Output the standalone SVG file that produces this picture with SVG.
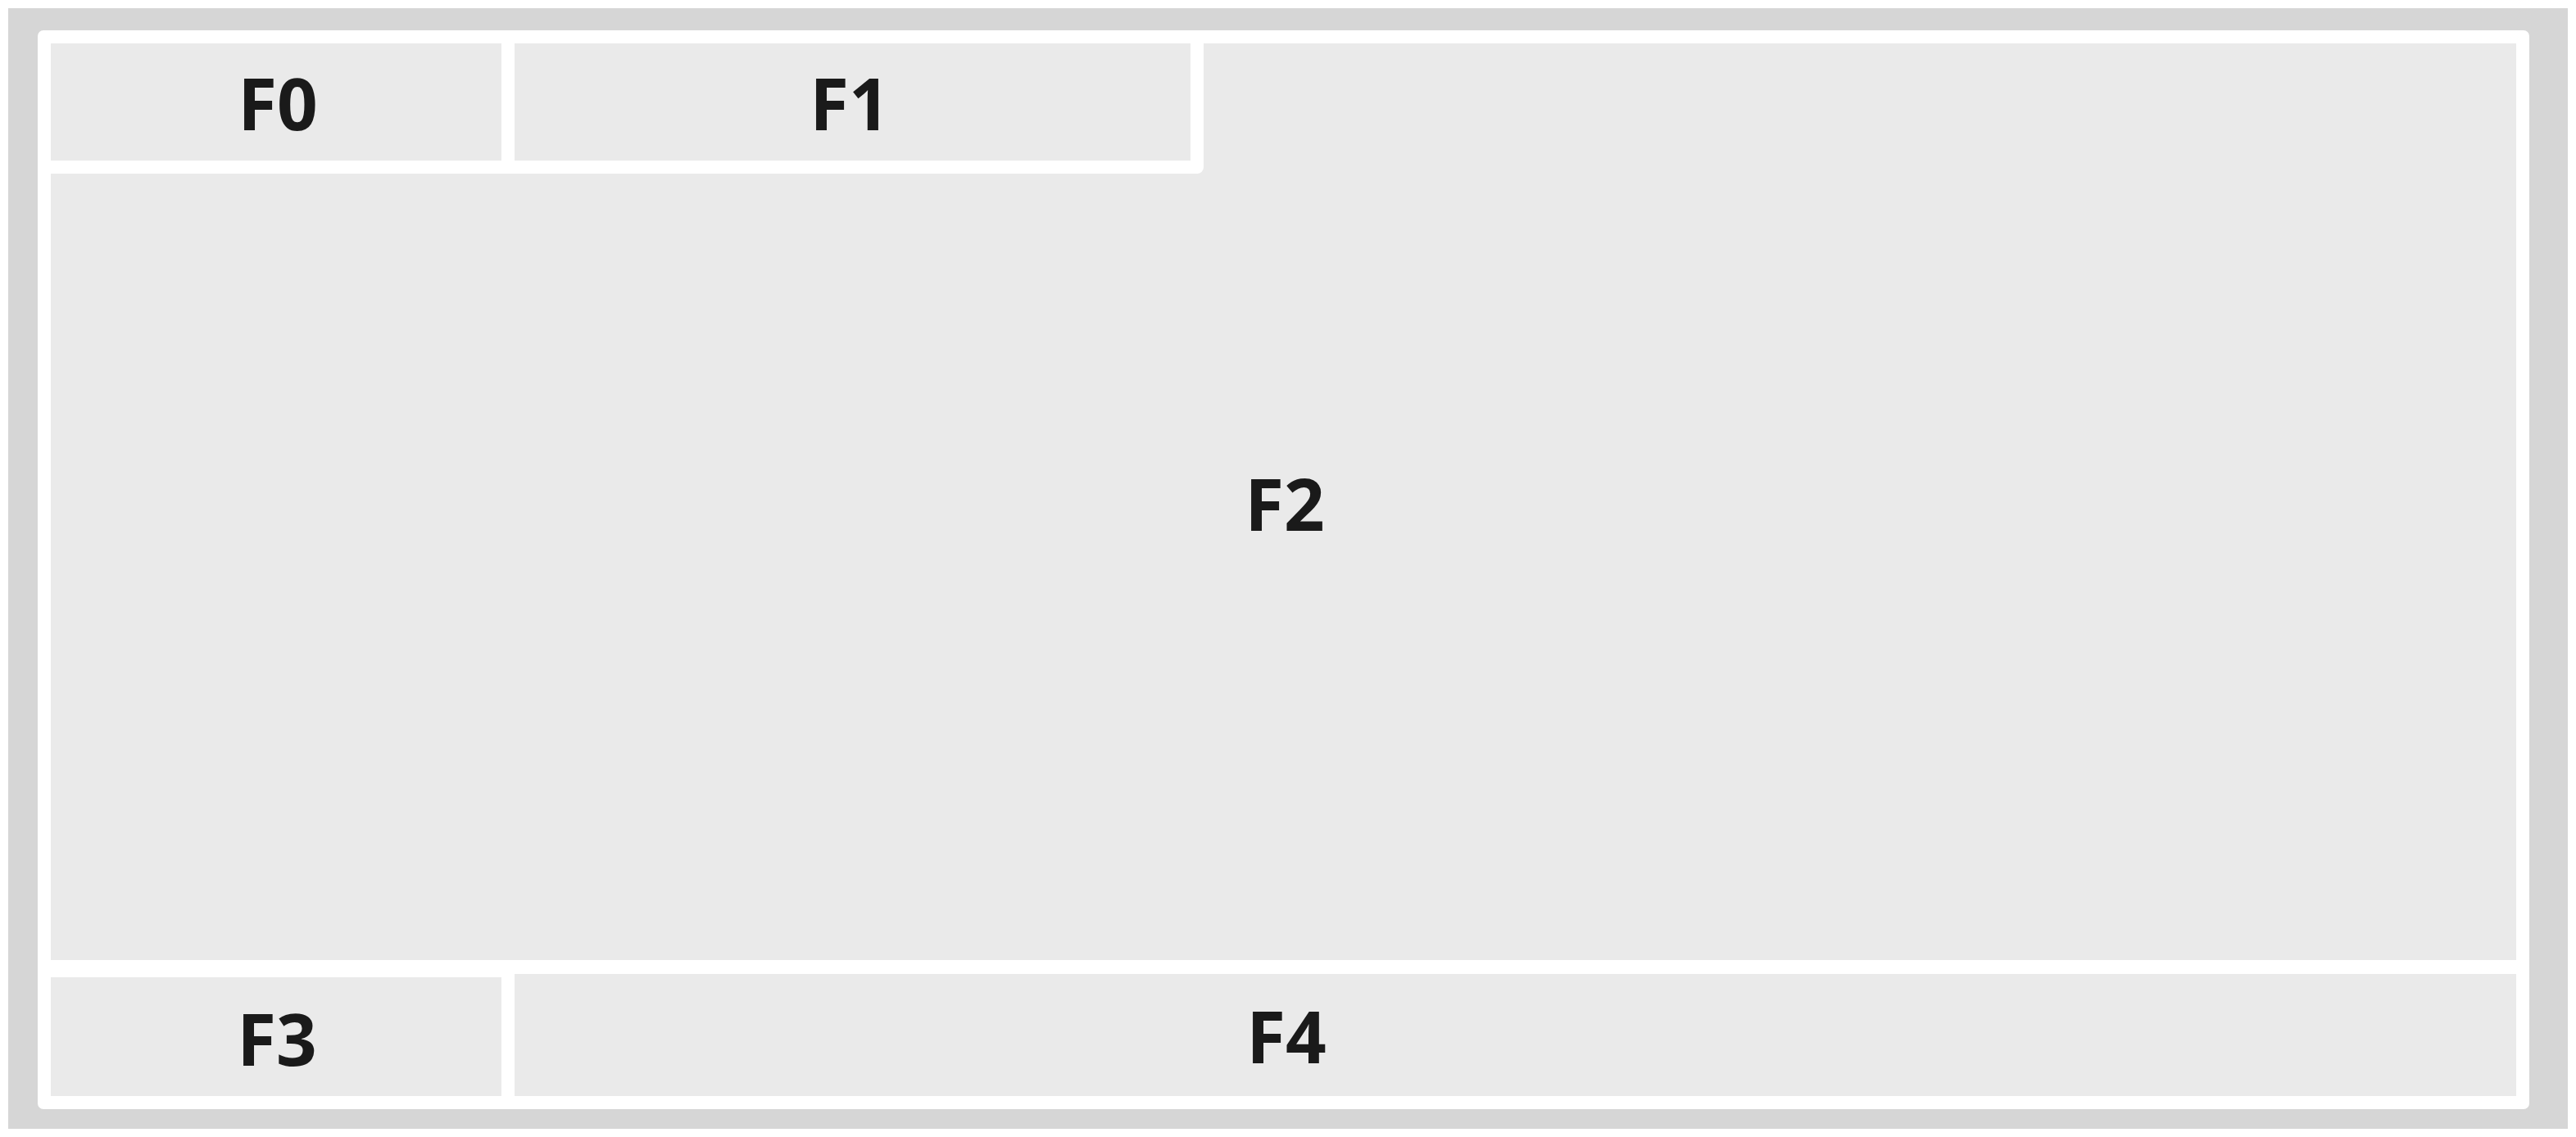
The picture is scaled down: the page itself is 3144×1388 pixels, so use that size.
<svg xmlns="http://www.w3.org/2000/svg" width="3144" height="1388" viewBox="0 0 3144 1388">
  <style>
    .cell { fill: #eaeaea; }
    .lbl { font-family: "Open Sans", "Noto Sans", "Liberation Sans", sans-serif; font-weight: 700; font-size: 87px; fill: #1a1a1a; text-anchor: middle; }
  </style>
  <rect x="0" y="0" width="3144" height="1388" fill="#ffffff"/>
  <rect x="10" y="10" width="3124" height="1368" fill="#d6d6d6"/>
  <rect x="46" y="37" width="3041" height="1317" rx="7" ry="7" fill="#ffffff"/>
  <g id="F0">
    <rect class="cell" x="62" y="53" width="550" height="143"/>
    <text class="lbl" x="339" y="159">F0</text>
  </g>
  <g id="F1">
    <rect class="cell" x="628" y="53" width="825" height="143"/>
    <text class="lbl" x="1037" y="159">F1</text>
  </g>
  <g id="F2">
    <path class="cell" d="M62,212 L1461,212 A8,8 0 0 0 1469,204 L1469,53 L3071,53 L3071,1172 L62,1172 Z"/>
    <text class="lbl" x="1568" y="648">F2</text>
  </g>
  <g id="F3">
    <rect class="cell" x="62" y="1193" width="550" height="145"/>
    <text class="lbl" x="338" y="1301">F3</text>
  </g>
  <g id="F4">
    <rect class="cell" x="628" y="1189" width="2443" height="149"/>
    <text class="lbl" x="1570" y="1298">F4</text>
  </g>
  <g id="connectors"></g>
</svg>
